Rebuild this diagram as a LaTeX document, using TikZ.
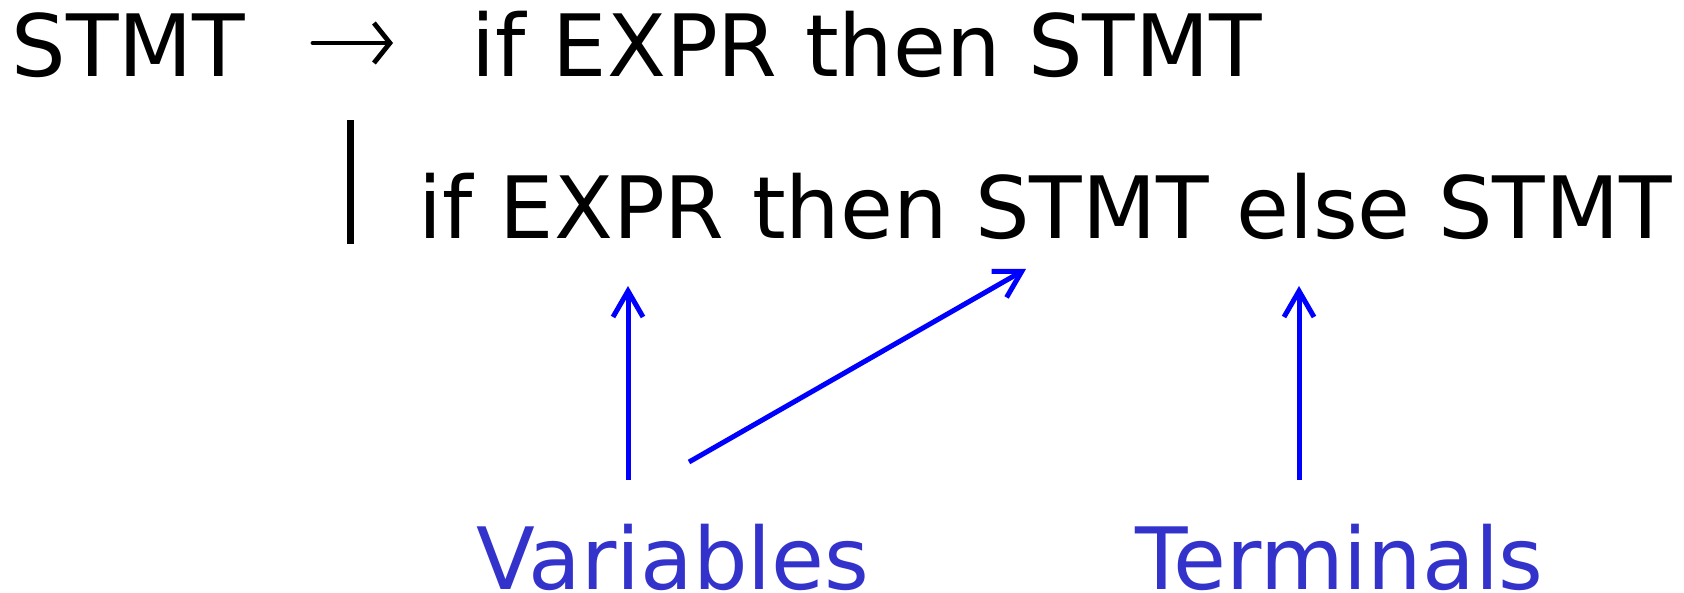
\documentclass[tikz,border=0pt]{standalone}
\usepackage{fontspec}
\usetikzlibrary{arrows.meta}
\setmainfont{DejaVu Sans}
\definecolor{gramblue}{HTML}{0000FF}
\definecolor{gramlabel}{HTML}{3333CC}

\begin{document}
\begin{tikzpicture}[
        x=0.5pt, y=-0.5pt,
        rule/.style={anchor=base west, inner sep=0pt, font=\fontsize{43}{52}\selectfont},
        tag/.style={rule, text=gramlabel},
        pointer/.style={gramblue, line width=2.5pt, -{Straight Barb[length=13pt,width=15pt,line width=2.5pt]}},
        yields/.style={line width=2.4pt, line cap=round, -{Straight Barb[length=8pt,width=20pt,line width=2.4pt]}}
    ]
    \useasboundingbox (0,0) rectangle (1684,593);

    % the two productions
    \node[rule] (lhs) at (11,77) {STMT};
    \coordinate (tofrom) at (313,43);
    \coordinate (toto) at (393,43);
    \draw[yields] (tofrom) -- (toto);
    \node[rule] (alt1) at (471,77) {if EXPR then STMT};
    \coordinate (bartop) at (350,120);
    \coordinate (barbot) at (350,244);
    \draw[line width=3.5pt] (bartop) -- (barbot);
    \node[rule] (alt2) at (418,238) {if EXPR then STMT else STMT};

    % labels underneath
    \node[tag] (vars) at (476,589) {Variables};
    \node[tag] (terms) at (1135,589) {Terminals};

    \coordinate (v1from) at (628,480);
    \coordinate (v1to) at (628,286);
    \coordinate (v2from) at (689,462);
    \coordinate (v2to) at (1026,269);
    \coordinate (t1from) at (1299,480);
    \coordinate (t1to) at (1299,286);

    \draw[pointer] (v1from) -- (v1to);
    \draw[pointer] (v2from) -- (v2to);
    \draw[pointer] (t1from) -- (t1to);
\end{tikzpicture}
\end{document}
